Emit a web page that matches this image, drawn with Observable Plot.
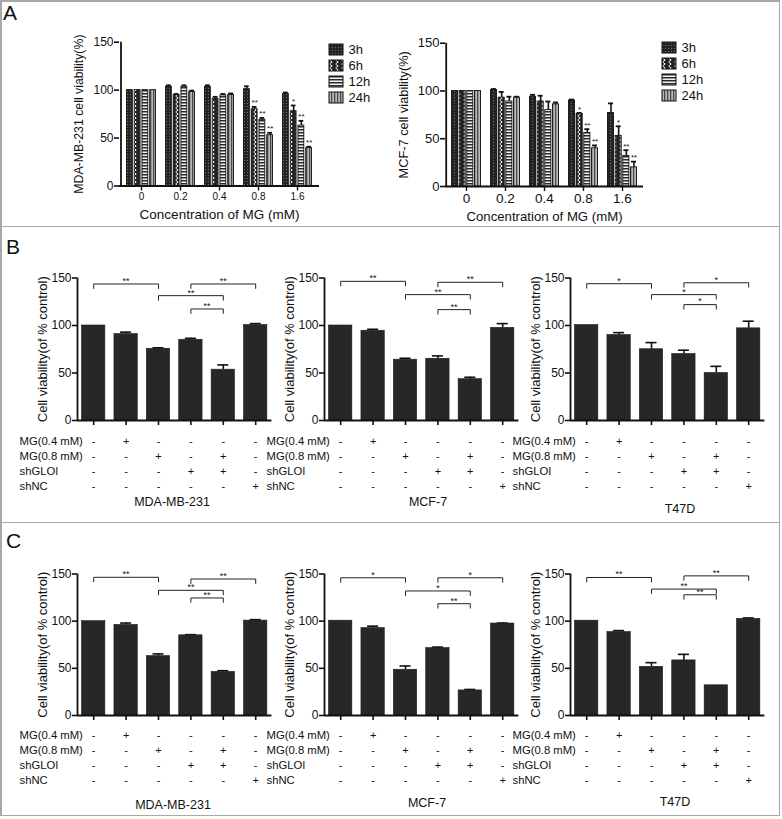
<!DOCTYPE html>
<html>
<head>
<meta charset="utf-8">
<script src="https://cdn.jsdelivr.net/npm/d3@7"></script>
<script src="https://cdn.jsdelivr.net/npm/@observablehq/plot@0.6"></script>
<style>
  html, body { margin: 0; padding: 0; background: #fff; }
  #page { position: relative; width: 782px; height: 819px; overflow: hidden; background: #fff;
          font-family: "Liberation Sans", Arial, Helvetica, sans-serif; color: #111; }
  .letter { position: absolute; font-size: 21px; line-height: 21px; font-weight: normal; }
  .cap { position: absolute; font-size: 12.5px; white-space: nowrap; transform: translate(-50%, -50%); }
  .line { position: absolute; background: #a8a8a8; }
</style>
</head>
<body>
<svg width="0" height="0" style="position:absolute;left:0;top:0">
  <defs>
    <pattern id="pat3h" patternUnits="userSpaceOnUse" width="3" height="3">
      <rect width="3" height="3" fill="#242424"/>
      <rect x="1" y="1" width="1" height="1" fill="#707070"/>
    </pattern>
    <pattern id="pat6h" patternUnits="userSpaceOnUse" width="6" height="4">
      <rect width="6" height="4" fill="#222"/>
      <path d="M1.5,0 L4.2,2 L1.5,4" fill="none" stroke="#f4f4f4" stroke-width="1"/>
    </pattern>
    <pattern id="pat12h" patternUnits="userSpaceOnUse" width="4" height="3">
      <rect width="4" height="3" fill="#f2f2f2"/>
      <rect width="4" height="1.5" fill="#2a2a2a"/>
    </pattern>
    <pattern id="pat24h" patternUnits="userSpaceOnUse" width="3" height="4">
      <rect width="3" height="4" fill="#b8b8b8"/>
      <rect width="1.3" height="4" fill="#4a4a4a"/>
    </pattern>
  </defs>
</svg>
<div id="page"></div>
<script>
// ---------------- DATA ----------------
// Panel A
const timesA = ["3h", "6h", "12h", "24h"];
const concA = ["0", "0.2", "0.4", "0.8", "1.6"];

const mdaA_values = [
  [100, 103.5, 103.5, 101, 96],   // 3h
  [100, 95, 91, 80, 78],          // 6h
  [100, 103.5, 94.5, 69, 63],     // 12h
  [100, 98, 95, 53, 39.5]         // 24h
];
const mdaA_errors = [
  [0, 1.5, 1.5, 3, 1.5],
  [0, 1, 2, 2.5, 6],
  [0, 1.5, 1.5, 2, 5],
  [0, 1.5, 1.5, 2.5, 1.5]
];
const mdaA_stars = [
  ["", "", "", "", ""],
  ["", "", "", "**", "*"],
  ["", "", "", "**", "**"],
  ["", "", "", "**", "**"]
];

const mcfA_values = [
  [100, 101, 94, 90, 77],
  [100, 93, 89, 76, 53],
  [100, 89, 80, 56, 32],
  [100, 93, 86, 40, 20]
];
const mcfA_errors = [
  [0, 1, 2, 1, 10],
  [0, 6, 6, 1, 10],
  [0, 5, 9, 4, 6],
  [0, 1, 2, 3, 6]
];
const mcfA_stars = [
  ["", "", "", "", ""],
  ["", "", "", "*", "*"],
  ["", "", "", "**", "**"],
  ["", "", "", "**", "**"]
];

// Panels B and C
const conditions = ["control", "MG 0.4", "MG 0.8", "shGLOI", "MG 0.8 + shGLOI", "shNC"];
const bracketPairs = [[1, 3], [3, 5], [4, 6], [4, 5]];

const tableRows = ["MG(0.4 mM)", "MG(0.8 mM)", "shGLOI", "shNC"];
const signMG04   = ["-", "+", "-", "-", "-", "-"];
const signMG08   = ["-", "-", "+", "-", "+", "-"];
const signShGLOI = ["-", "-", "-", "+", "+", "-"];
const signShNC   = ["-", "-", "-", "-", "-", "+"];
const tableSigns = [signMG04, signMG08, signShGLOI, signShNC];

const B_mda_values = [100, 91, 75.5, 85, 53.5, 100.5];
const B_mda_errors = [0, 2, 1, 1.5, 5, 1.5];
const B_mda_levels = [143.7, 131.4, 143.7, 117.4];
const B_mda_labels = ["**", "**", "**", "**"];

const B_mcf_values = [100, 94.5, 64, 65, 43.5, 97.5];
const B_mcf_errors = [0, 1.5, 1.5, 3, 2, 4.5];
const B_mcf_levels = [146.5, 132.5, 145.5, 116.7];
const B_mcf_labels = ["**", "**", "**", "**"];

const B_t47_values = [100.5, 90, 75, 70, 50, 97];
const B_t47_errors = [0, 2.5, 7, 4, 7, 7.5];
const B_t47_levels = [144, 132.5, 145, 122];
const B_t47_labels = ["*", "*", "*", "*"];

const C_mda_values = [100, 96, 63, 85, 46.2, 100.6];
const C_mda_errors = [0, 2, 2.3, 0.7, 1.3, 1];
const C_mda_levels = [146.5, 132.7, 144.7, 124.6];
const C_mda_labels = ["**", "**", "**", "**"];

const C_mcf_values = [100.5, 92.7, 48.5, 71.5, 26.6, 97.5];
const C_mcf_errors = [0, 2, 4, 1, 1, 0.5];
const C_mcf_levels = [146, 132, 146, 118.5];
const C_mcf_labels = ["*", "*", "*", "**"];

const C_t47_values = [100.5, 88.5, 51.6, 58.4, 32, 102.4];
const C_t47_errors = [0, 1.5, 4.4, 6.4, 0, 1];
const C_t47_levels = [146.3, 134, 148, 128];
const C_t47_labels = ["**", "**", "**", "**"];

const cellLines = ["MDA-MB-231", "MCF-7", "T47D"];

// ---------------- DRAWING ----------------
const FONT = '"Liberation Sans", Arial, Helvetica, sans-serif';
const baseStyle = {background: "transparent", fontFamily: FONT, fontSize: "12px", color: "#111", overflow: "visible"};
const page = document.getElementById("page");

function put(node, left, top) {
  node.style.position = "absolute";
  node.style.left = left + "px";
  node.style.top = top + "px";
  page.appendChild(node);
  return node;
}
function html(cls, text, left, top) {
  const d = document.createElement("div");
  d.className = cls;
  d.textContent = text;
  d.style.left = left + "px";
  d.style.top = top + "px";
  page.appendChild(d);
  return d;
}

function panelA(o) {
  const n = concA.length, pi = 0.22, po = 0.126;
  const step = (o.width - o.ml - o.mr) / (n - pi + 2 * po);
  const bw = step * (1 - pi), sub = bw / timesA.length;
  const marks = [];
  timesA.forEach((t, s) => {
    const d = concA.map((c, g) => ({conc: c, value: o.vals[s][g], err: o.errs[s][g], star: o.stars[s][g]}));
    const off = -bw / 2 + sub * (s + 0.5);
    const withErr = d.filter(e => e.err > 0);
    const inL = s * sub, inR = (timesA.length - 1 - s) * sub;
    marks.push(
      Plot.ruleX(withErr, {x: "conc", y1: "value", y2: e => e.value + e.err, dx: off, stroke: "#111", strokeWidth: 1.6}),
      Plot.tickY(withErr, {x: "conc", y: e => e.value + e.err, insetLeft: inL + 1, insetRight: inR + 1, stroke: "#111", strokeWidth: 1.8}),
      Plot.barY(d, {x: "conc", y: "value", fill: `url(#pat${t})`, stroke: "#111", strokeWidth: 0.9, insetLeft: inL + 0.45, insetRight: inR + 0.45}),
      Plot.text(d.filter(e => e.star), {x: "conc", y: e => e.value + e.err, text: "star", dx: off, dy: -4, fontSize: 8})
    );
  });
  return Plot.plot({
    width: o.width, height: o.height,
    marginLeft: o.ml, marginRight: o.mr, marginTop: o.mt, marginBottom: o.mb,
    style: baseStyle,
    x: {type: "band", domain: concA, paddingInner: pi, paddingOuter: po},
    y: {domain: [0, 150]},
    marks: [
      ...marks,
      Plot.ruleY([0], {stroke: "#111", strokeWidth: 1.8}),
      Plot.ruleX([concA[0]], {y1: 0, y2: 150, dx: -(po * step + bw / 2), stroke: "#111", strokeWidth: 1.8}),
      Plot.axisY({ticks: [0, 50, 100, 150], tickSize: 5, tickPadding: 1, fontSize: o.yTickFont, label: null, strokeWidth: 1.6}),
      Plot.axisY({ticks: [], label: o.yLabel, labelAnchor: "center", labelOffset: o.yLabelOffset, labelArrow: "none", fontSize: o.yLabelFont}),
      Plot.axisX({tickSize: 5, tickPadding: o.xTickPad, fontSize: o.xTickFont, label: null, strokeWidth: 1.4}),
      Plot.axisX({ticks: [], label: "Concentration of MG (mM)", labelAnchor: "center", labelOffset: o.xLabelOffset, labelArrow: "none", fontSize: o.xLabelFont})
    ]
  });
}

function legendA() {
  return Plot.plot({
    width: 50, height: 70, margin: 0,
    style: baseStyle,
    x: {type: "band", domain: ["swatch"], range: [1, 15], padding: 0, axis: null},
    y: {type: "band", domain: timesA, range: [1, 67], paddingInner: 0.3, paddingOuter: 0.15, axis: null},
    marks: [
      Plot.cell(timesA, {x: () => "swatch", y: d => d, fill: d => `url(#pat${d})`, stroke: "#111", strokeWidth: 1}),
      Plot.text(timesA, {x: () => "swatch", y: d => d, text: d => d, textAnchor: "start", dx: 12, fontSize: 13})
    ]
  });
}

const xDomBC = [0.5, conditions.length + 0.5];
const halfBar = 0.36, halfCap = 0.17, drop = 4.7;

function panelBC(o) {
  const data = conditions.map((c, k) => ({pos: k + 1, value: o.vals[k], err: o.errs[k]}));
  const withErr = data.filter(d => d.err > 0);
  const brs = bracketPairs.map(([a, b], k) => ({a, b, level: o.levels[k], label: o.labels[k]}));
  const brPath = brs.flatMap((r, k) =>
    [[r.a, r.level - drop], [r.a, r.level], [r.b, r.level], [r.b, r.level - drop]].map(([x, y]) => ({k, x, y})));
  return Plot.plot({
    width: o.width, height: o.height,
    marginLeft: o.ml, marginRight: o.mr, marginTop: o.mt, marginBottom: o.mb,
    style: baseStyle,
    x: {domain: xDomBC},
    y: {domain: [0, 150]},
    marks: [
      Plot.ruleX(withErr, {x: "pos", y1: "value", y2: d => d.value + d.err, stroke: "#111", strokeWidth: 1.6}),
      Plot.ruleY(withErr, {y: d => d.value + d.err, x1: d => d.pos - halfCap, x2: d => d.pos + halfCap, stroke: "#111", strokeWidth: 1.6}),
      Plot.rect(data, {x1: d => d.pos - halfBar, x2: d => d.pos + halfBar, y1: 0, y2: "value", fill: "#272727", stroke: "#1a1a1a", strokeWidth: 0.6}),
      Plot.line(brPath, {x: "x", y: "y", z: "k", stroke: "#222", strokeWidth: 1}),
      Plot.text(brs, {x: r => (r.a + r.b) / 2, y: "level", text: "label", dy: -3, fontSize: 9}),
      Plot.ruleX([xDomBC[0]], {y1: 0, y2: 150, stroke: "#111", strokeWidth: 1.8}),
      Plot.ruleY([0], {stroke: "#111", strokeWidth: 1.8}),
      Plot.axisY({ticks: [0, 50, 100, 150], tickSize: 5, tickPadding: 1, fontSize: 12, label: null, strokeWidth: 1.6}),
      Plot.axisY({ticks: [], label: "Cell viability(of % control)", labelAnchor: "center", labelOffset: o.labelOffset, labelArrow: "none", fontSize: 13}),
      Plot.axisX({ticks: conditions.map((c, k) => k + 1), tickFormat: () => "", tickSize: 5, label: null, strokeWidth: 1.6})
    ]
  });
}

function tableBC(o) {
  const cells = tableRows.flatMap((r, ri) => tableSigns[ri].map((s, k) => ({row: r, pos: k + 1, sign: s})));
  return Plot.plot({
    width: o.width, height: 66,
    marginLeft: o.ml, marginRight: o.mr, marginTop: 0, marginBottom: 0,
    style: baseStyle,
    x: {domain: xDomBC, axis: null},
    y: {type: "band", domain: tableRows, range: [o.r0, o.r1], padding: 0, axis: null},
    marks: [
      Plot.text(cells, {x: "pos", y: "row", text: "sign", fontSize: 11}),
      Plot.text(tableRows, {y: d => d, text: d => d, frameAnchor: "left", textAnchor: "start", dx: -58, fontSize: 11.3})
    ]
  });
}

// ---- frame lines ----
function line(left, top, w, h) {
  const d = document.createElement("div");
  d.className = "line";
  Object.assign(d.style, {left: left + "px", top: top + "px", width: w + "px", height: h + "px"});
  page.appendChild(d);
}
line(0, 0, 780, 1.5);
line(0, 0, 1.5, 816);
line(778.5, 0, 1.5, 816);
line(0, 814.5, 780, 1.5);
line(0, 225.5, 780, 1.5);
line(0, 521.5, 780, 1.5);

// ---- panel letters ----
html("letter", "A", 3, 2);
html("letter", "B", 6, 236);
html("letter", "C", 6, 530);

// ---- Panel A ----
put(panelA({vals: mdaA_values, errs: mdaA_errors, stars: mdaA_stars, yLabel: "MDA-MB-231 cell viability(%)",
  width: 330, height: 222, ml: 119, mr: 11, mt: 41.7, mb: 36.5,
  yTickFont: 12, yLabelFont: 12.3, yLabelOffset: 45, xTickFont: 10, xTickPad: 1.5, xLabelFont: 13.5, xLabelOffset: 33}), 0, 0);
put(legendA(), 328, 40);

put(panelA({vals: mcfA_values, errs: mcfA_errors, stars: mcfA_stars, yLabel: "MCF-7 cell viability(%)",
  width: 330, height: 222, ml: 115, mr: 17, mt: 42.7, mb: 36,
  yTickFont: 13, yLabelFont: 12.8, yLabelOffset: 47, xTickFont: 13.5, xTickPad: 2, xLabelFont: 13.2, xLabelOffset: 34}), 330, 0);
put(legendA(), 661, 38);

// ---- Panels B and C ----
const bcCols = [
  {left: 0,   width: 280, ml: 77, capB: [172, 502], capC: [173, 805]},
  {left: 262, width: 260, ml: 62, capB: [428, 502], capC: [427, 803]},
  {left: 508, width: 270, ml: 62, capB: [680, 509], capC: [675, 802]}
];
const Bsets = [
  [B_mda_values, B_mda_errors, B_mda_levels, B_mda_labels],
  [B_mcf_values, B_mcf_errors, B_mcf_levels, B_mcf_labels],
  [B_t47_values, B_t47_errors, B_t47_levels, B_t47_labels]
];
const Csets = [
  [C_mda_values, C_mda_errors, C_mda_levels, C_mda_labels],
  [C_mcf_values, C_mcf_errors, C_mcf_levels, C_mcf_labels],
  [C_t47_values, C_t47_errors, C_t47_levels, C_t47_labels]
];
const plotW = 194.4;

bcCols.forEach((col, j) => {
  const mr = col.width - col.ml - plotW;
  const [bv, be, bl, bt] = Bsets[j];
  put(panelBC({vals: bv, errs: be, levels: bl, labels: bt, width: col.width, height: 205,
    ml: col.ml, mr, mt: 47.5, mb: 15, labelOffset: 40}), col.left, 230);
  put(tableBC({width: col.width, ml: col.ml, mr, r0: 1, r1: 64}), col.left, 430);
  html("cap", cellLines[j], col.capB[0], col.capB[1]);

  const [cv, ce, cl, ct] = Csets[j];
  put(panelBC({vals: cv, errs: ce, levels: cl, labels: ct, width: col.width, height: 202,
    ml: col.ml, mr, mt: 45.5, mb: 15, labelOffset: 40}), col.left, 528);
  put(tableBC({width: col.width, ml: col.ml, mr, r0: 0.5, r1: 63.5}), col.left, 725);
  html("cap", cellLines[j], col.capC[0], col.capC[1]);
});
</script>
</body>
</html>
